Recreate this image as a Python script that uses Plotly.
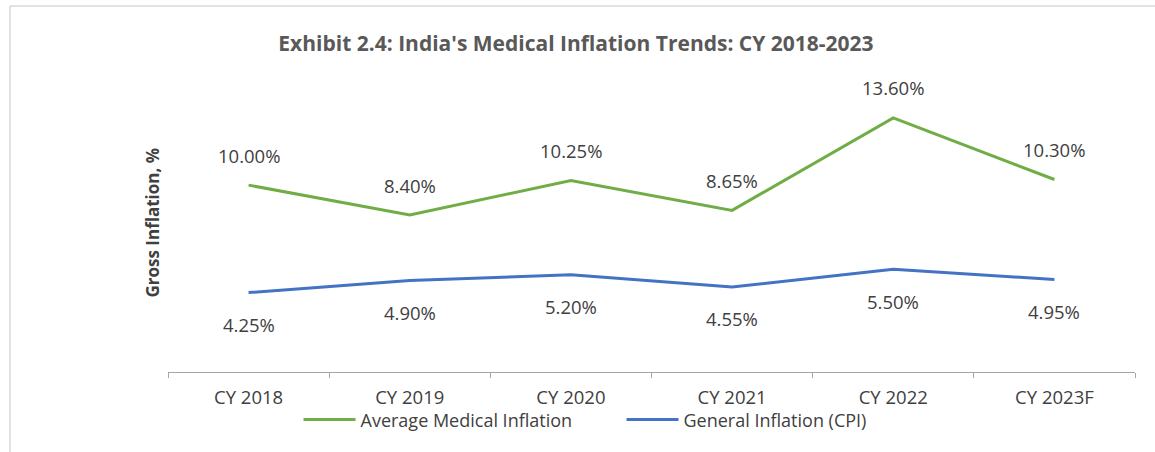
import plotly.graph_objects as go

categories = ["CY 2018", "CY 2019", "CY 2020", "CY 2021", "CY 2022", "CY 2023F"]
medical_inflation = [10.00, 8.40, 10.25, 8.65, 13.60, 10.30]
general_inflation = [4.25, 4.90, 5.20, 4.55, 5.50, 4.95]

GREEN = "#70AD47"
BLUE = "#4472C4"
FONT = "Open Sans"
TXT = "#404040"

fig = go.Figure()
fig.add_trace(go.Scatter(x=categories, y=medical_inflation, mode="lines",
                         name="Average Medical Inflation",
                         line=dict(color=GREEN, width=3)))
fig.add_trace(go.Scatter(x=categories, y=general_inflation, mode="lines",
                         name="General Inflation (CPI)",
                         line=dict(color=BLUE, width=3)))

annotations = []
for c, v in zip(categories, medical_inflation):
    annotations.append(dict(x=c, y=v, xref="x", yref="y", text=f"{v:.2f}%",
                            showarrow=False, yshift=30,
                            font=dict(family=FONT, size=18.5, color=TXT)))
for c, v in zip(categories, general_inflation):
    annotations.append(dict(x=c, y=v, xref="x", yref="y", text=f"{v:.2f}%",
                            showarrow=False, yshift=-32,
                            font=dict(family=FONT, size=18.5, color=TXT)))
annotations.append(dict(x=-0.0165, y=0.5, xref="paper", yref="paper",
                        text="<b>Gross Inflation, %</b>", textangle=-90,
                        showarrow=False, xanchor="center", yanchor="middle",
                        font=dict(family=FONT, size=17, color=TXT)))

fig.update_layout(
    width=1155, height=452,
    margin=dict(l=168, r=20, t=73, b=80),
    paper_bgcolor="white", plot_bgcolor="white",
    title=dict(text="<b>Exhibit 2.4: India's Medical Inflation Trends: CY 2018-2023</b>",
               x=0.4987, xanchor="center", y=1 - 44 / 452, yanchor="middle",
               font=dict(family=FONT, size=21, color="#595959")),
    xaxis=dict(type="category", range=[-0.5, 5.5], tickson="boundaries",
               ticks="outside", ticklen=5, ticklabelstandoff=9,
               tickcolor="#a6a6a6", showline=True, linecolor="#a6a6a6", linewidth=1,
               showgrid=False, zeroline=False,
               tickfont=dict(family=FONT, size=18.5, color=TXT)),
    yaxis=dict(range=[0, 16], visible=False),
    showlegend=True,
    legend=dict(orientation="h", x=0.469, xanchor="center", y=-0.16, yanchor="middle",
                font=dict(family=FONT, size=18, color=TXT),
                bgcolor="rgba(0,0,0,0)", itemwidth=52,
                entrywidth=256, entrywidthmode="pixels",
                tracegroupgap=0),
    annotations=annotations,
    shapes=[
        dict(type="line", xref="paper", yref="paper", x0=-0.1634, x1=1.05,
             y0=1.224, y1=1.224, line=dict(color="#d9d9d9", width=1.5)),
        dict(type="line", xref="paper", yref="paper", x0=-0.1634, x1=-0.1634,
             y0=1.224, y1=-0.3, line=dict(color="#d9d9d9", width=1.5)),
    ],
)

fig.write_html("out.html", config={"displayModeBar": False},
               post_script="document.body.style.margin='0';")
